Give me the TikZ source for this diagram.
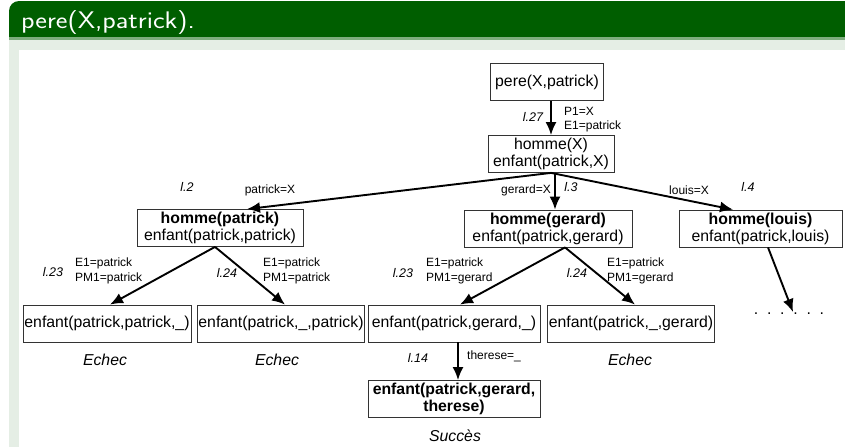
\documentclass[tikz,border=0pt]{standalone}
\usepackage{fontspec}
\usepackage{xcolor}
\usepackage{tikz}
\usetikzlibrary{arrows.meta, calc}
\newfontfamily\arialfont{Liberation Sans}
\definecolor{blocvert}{RGB}{0,94,0}
\definecolor{blocfond}{RGB}{229,238,229}

\begin{document}
\begin{tikzpicture}[x=1pt, y=-1pt, >={Latex[length=13pt,width=11pt]},
    boite/.style={draw=black!80, line width=0.8pt, fill=white, align=center,
        font=\arialfont\fontsize{15.8}{17}\selectfont,
        inner xsep=1pt, inner ysep=0pt, minimum height=37pt},
    fleche/.style={->, line width=1.9pt},
    lbl/.style={font=\arialfont\fontsize{12}{14.5}\selectfont, align=left, inner sep=0pt},
    ligne/.style={font=\arialfont\itshape\fontsize{12.5}{14}\selectfont, inner sep=0pt},
    issue/.style={font=\arialfont\itshape\fontsize{15.8}{17}\selectfont, inner sep=0pt}]
    \useasboundingbox (0,0) rectangle (845,447);

    % --- FOND DU BLOC ---
    \fill[white] (0,0) rectangle (845,447);
    \fill[blocfond] (9,37) rectangle (845,447);
    \fill[blocvert] (9,37) [rounded corners=10pt] -- (9,1) [sharp corners] -- (845,1) -- (845,37) -- cycle;
    \fill[blocvert!45!blocfond] (9,37) rectangle (845,39.5);
    \fill[white] (19,50) rectangle (845,447);
    \node[font=\sffamily\fontsize{24}{28}\selectfont, text=white, anchor=base west, inner sep=0pt] (titre) at (21,28) {\scalebox{1.16}[1]{pere(X,patrick).}};

    % --- BUTS ---
    \node[boite, minimum width=113pt] (pere) at (547,82) {pere(X,patrick)};
    \node[boite, minimum width=126pt] (hx) at (551,154) {homme(X)\\enfant(patrick,X)};
    \node[boite, minimum width=166pt] (hpat) at (220,228) {\textbf{homme(patrick)}\\enfant(patrick,patrick)};
    \node[boite, minimum width=168pt] (hger) at (548,228.5) {\textbf{homme(gerard)}\\enfant(patrick,gerard)};
    \node[boite, minimum width=163pt] (hlou) at (760.5,228.5) {\textbf{homme(louis)}\\enfant(patrick,louis)};
    \node[boite, minimum width=168pt] (e1) at (107,323.5) {enfant(patrick,patrick,\_)};
    \node[boite, minimum width=166pt] (e2) at (281,323.5) {enfant(patrick,\_,patrick)};
    \node[boite, minimum width=172pt] (e3) at (454,323.5) {enfant(patrick,gerard,\_)};
    \node[boite, minimum width=166pt] (e4) at (631,323.5) {enfant(patrick,\_,gerard)};
    \node[boite, minimum width=172pt, font=\arialfont\bfseries\fontsize{15.8}{17}\selectfont] (succ) at (454,399) {enfant(patrick,gerard,\\therese)};
    \node[font=\arialfont\fontsize{15.8}{17}\selectfont, inner sep=0pt] (suite) at (789,314) {.~~.~~.~~.~~.~~.};
    \coordinate (fin) at (793,312);

    % --- UNIFICATIONS ---
    \node[ligne] (l27) at (533,117) {l.27};
    \node[lbl, anchor=west] (u27) at (564,119.5) {P1=X\\E1=patrick};
    \node[ligne] (l2) at (187,187) {l.2};
    \node[lbl] (u2) at (270,190) {patrick=X};
    \node[lbl] (u3) at (526,190) {gerard=X};
    \node[ligne] (l3) at (571,187) {l.3};
    \node[lbl] (u4) at (689,190) {louis=X};
    \node[ligne] (l4) at (748,187) {l.4};
    \node[ligne] (l23a) at (53,272) {l.23};
    \node[lbl, anchor=west] (u23a) at (75,271) {E1=patrick\\PM1=patrick};
    \node[ligne] (l24a) at (227,273) {l.24};
    \node[lbl, anchor=west] (u24a) at (263,271) {E1=patrick\\PM1=patrick};
    \node[ligne] (l23b) at (403,273) {l.23};
    \node[lbl, anchor=west] (u23b) at (426,271) {E1=patrick\\PM1=gerard};
    \node[ligne] (l24b) at (577,273) {l.24};
    \node[lbl, anchor=west] (u24b) at (607,271) {E1=patrick\\PM1=gerard};
    \node[ligne] (l14) at (418,358) {l.14};
    \node[lbl, anchor=west] (u14) at (467,356) {therese=\_};

    % --- ISSUES ---
    \node[issue] (ech1) at (105,360) {Echec};
    \node[issue] (ech2) at (277,360) {Echec};
    \node[issue] (ech3) at (630,360) {Echec};
    \node[issue] (succes) at (455,436) {Succès};

    % --- FLECHES ---
    \draw[fleche] ($(pere.south)+(4,0)$) -- (hx.north);
    \draw[fleche] (hx.south) -- ($(hpat.north)+(27,0)$);
    \draw[fleche] ($(hx.south)+(4,0)$) -- ($(hger.north)+(7,0)$);
    \draw[fleche] (hx.south) -- ($(hlou.north)+(-27.5,0)$);
    \draw[fleche] ($(hpat.south)+(-5,0)$) -- ($(e1.north)+(3,0)$);
    \draw[fleche] ($(hpat.south)+(-5,0)$) -- ($(e2.north)+(4,0)$);
    \draw[fleche] ($(hger.south)+(17,0)$) -- ($(e3.north)+(6,0)$);
    \draw[fleche] ($(hger.south)+(17,0)$) -- ($(e4.north)+(4,0)$);
    \draw[fleche] ($(hlou.south)+(7.5,0)$) -- (fin);
    \draw[fleche] ($(e3.south)+(4,0)$) -- ($(succ.north)+(4,0)$);
\end{tikzpicture}
\end{document}
